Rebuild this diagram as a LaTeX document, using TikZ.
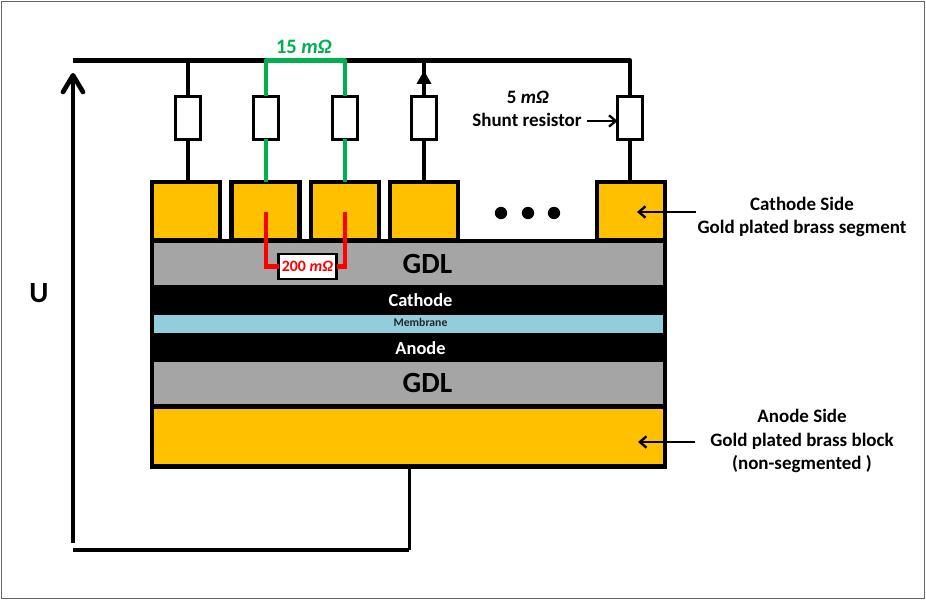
\documentclass[tikz,border=0pt]{standalone}
\usepackage{xcolor}
\usepackage{fontspec}
\setmainfont{Carlito}
\usetikzlibrary{shapes,arrows,arrows.meta,positioning}
\definecolor{gold}{HTML}{FFC000}
\definecolor{gdlgray}{HTML}{A5A5A5}
\definecolor{memblue}{HTML}{92CDDC}
\definecolor{shuntgreen}{HTML}{00B050}

\begin{document}
\begin{tikzpicture}[
    x=0.03cm, y=-0.03cm,
    segment/.style={rectangle, draw=black, fill=gold, line width=1.35mm, minimum width=2.04cm, minimum height=1.755cm, outer sep=0pt},
    shunt/.style={rectangle, draw=black, fill=white, line width=0.9mm, minimum width=0.75cm, minimum height=1.29cm, outer sep=0pt},
    layer/.style={rectangle, fill=black, minimum width=15.51cm, outer sep=0pt, inner sep=0pt, text=white, font=\bfseries\fontsize{15.7}{18}\selectfont},
    gdl/.style={rectangle, draw=black, line width=1.35mm, fill=gdlgray, minimum width=15.39cm, outer sep=0pt, inner sep=0pt, font=\bfseries\fontsize{25}{27}\selectfont},
    wire/.style={draw=black, line width=1.3mm},
    greenwire/.style={draw=shuntgreen, line width=1.3mm},
    redwire/.style={draw=red, line width=1.3mm},
    pointer/.style={-{Straight Barb[length=2mm,width=3.4mm]}, draw=black, line width=0.7mm},
    lbl/.style={font=\bfseries\fontsize{16.2}{19.8}\selectfont, align=center, inner sep=0pt},
    blackdot/.style={circle, fill=black, minimum size=0.37cm, inner sep=0pt}
]
\useasboundingbox (0,0) rectangle (926,601);

% Frame
\node[rectangle, draw=black!60, line width=0.3mm, minimum width=27.66cm, minimum height=17.9cm, outer sep=0pt] (frame) at (463,300) {};

% Layers of the cell
\node[gdl, minimum height=1.38cm] (gdlTop) at (408.5,264) {\raisebox{-0.05cm}{\hspace*{1.14cm}GDL}};
\node[layer, minimum height=0.9cm] (cathode) at (408.5,300) {\hspace*{0.72cm}Cathode};
\node[layer, minimum height=0.9cm] (anode) at (408.5,348) {\hspace*{0.72cm}Anode};
\node[gdl, fill=memblue, minimum height=0.66cm, font=\bfseries\fontsize{10}{11}\selectfont, text=black!85] (membrane) at (408.5,324) {\raisebox{0.12cm}{\hspace*{0.72cm}Membrane}};
\node[gdl, minimum height=1.40cm] (gdlBottom) at (408.5,383) {\raisebox{-0.03cm}{\hspace*{1.14cm}GDL}};
\node[segment, minimum width=15.39cm, minimum height=1.80cm] (block) at (408.5,436.5) {};

% Segments
\node[segment] (seg1) at (186,211.25) {};
\node[segment] (seg2) at (265.5,211.25) {};
\node[segment] (seg3) at (345,211.25) {};
\node[segment] (seg4) at (424,211.25) {};
\node[segment] (seg5) at (631,211.25) {};

% Shunt resistors
\node[shunt] (res1) at (188,118) {};
\node[shunt] (res2) at (266,118) {};
\node[shunt] (res3) at (345,118) {};
\node[shunt] (res4) at (424,118) {};
\node[shunt] (res5) at (630,118) {};

% Points on the top wire
\coordinate (top0) at (73,60.5);
\coordinate (top1) at (188,60.5);
\coordinate (top2) at (266,60.5);
\coordinate (top3) at (345,60.5);
\coordinate (top4) at (424,60.5);
\coordinate (top5) at (630,60.5);

% Black wiring
\draw[wire, line join=round] (top0) -- (top2);
\draw[wire, line join=round] (top3) -- (top5) -- (res5.north);
\draw[wire] (top1) -- (res1.north);
\draw[wire] (res1.south) -- (res1.south |- seg1.north);
\draw[wire] (res5.south) -- (res5.south |- seg5.north);
\draw[wire] (res4.south) -- (seg4.north);
\draw[wire] (res4.north) -- (top4);
\node[isosceles triangle, isosceles triangle apex angle=60, fill=black, rotate=90, minimum height=0.39cm, minimum width=0.42cm, inner sep=0pt, outer sep=0pt] (tip) at (424,79.5) {};

% Green pair
\draw[greenwire, line join=round] (res2.north) -- (top2) -- (top3) -- (res3.north);
\draw[greenwire] (res2.south) -- (res2.south |- seg2.north);
\draw[greenwire] (res3.south) -- (res3.south |- seg3.north);
\node[lbl, font=\bfseries\fontsize{17.5}{19}\selectfont, text=shuntgreen] (greenlbl) at (304,47) {15 \textit{mΩ}};

% Red pair
\node[rectangle, draw=black, fill=white, line width=0.75mm, minimum width=1.74cm, minimum height=0.75cm, inner sep=0pt, outer sep=0pt, text=red, font=\bfseries\fontsize{13.5}{15}\selectfont] (res200) at (307.5,266.5) {200 \textit{mΩ}};
\coordinate (redA) at (266,212);
\coordinate (redB) at (345,212);
\draw[redwire, line join=miter] (redA) |- (res200.west);
\draw[redwire, line join=miter] (redB) |- (res200.east);

% Dots
\node[blackdot] (dot1) at (501,213) {};
\node[blackdot] (dot2) at (528,213) {};
\node[blackdot] (dot3) at (554,213) {};

% Source loop
\coordinate (loopA) at (73,543);
\coordinate (loopB) at (73,550);
\coordinate (loopC) at (409,550);
\coordinate (loopD) at (73,73);
\draw[-{Straight Barb[length=5mm,width=6mm,round]}, wire, line width=1.4mm] (loopA) -- (loopD);
\draw[draw=black, line width=1.3mm] (loopB) -- (loopC);
\draw[draw=black, line width=0.9mm] (loopC) -- (loopC |- block.south);
\node[lbl, font=\bfseries\fontsize{25}{27}\selectfont] (ulbl) at (39,293) {U};

% Labels on the right
\node[lbl] (shuntval) at (528,97) {5 \textit{mΩ}};
\node[lbl] (shuntlbl) at (527,120) {Shunt resistor};
\coordinate (shuntfrom) at (587,121);
\draw[pointer] (shuntfrom) -- (shuntfrom -| res5.west);

\node[lbl] (cathlbl) at (802,217) {Cathode Side\\Gold plated brass segment};
\coordinate (catharrow) at (696,212);
\coordinate (cathtip) at (637,212);
\draw[pointer] (catharrow) -- (cathtip);

\node[lbl] (anodelbl) at (802,441) {Anode Side\\Gold plated brass block\\(non-segmented )};
\coordinate (anodearrow) at (695,442);
\coordinate (anodetip) at (638,442);
\draw[pointer] (anodearrow) -- (anodetip);

\end{tikzpicture}
\end{document}
